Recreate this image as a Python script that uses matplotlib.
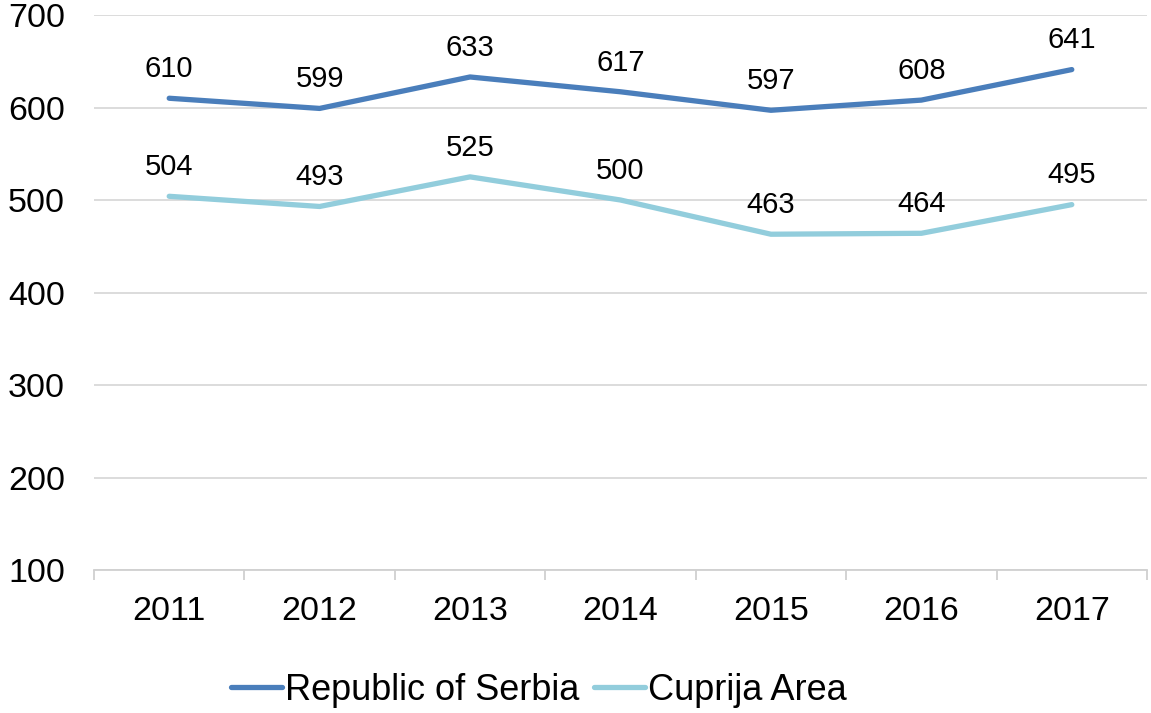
import matplotlib
matplotlib.use("Agg")
import matplotlib.pyplot as plt
import numpy as np

years = ["2011", "2012", "2013", "2014", "2015", "2016", "2017"]
serbia = [610, 599, 633, 617, 597, 608, 641]
cuprija = [504, 493, 525, 500, 463, 464, 495]
series_names = ["Republic of Serbia", "Cuprija Area"]
colors = ["#4A7EBB", "#92CDDC"]

plt.rcParams['font.family'] = ['Liberation Sans', 'DejaVu Sans']

fig = plt.figure(figsize=(11.51, 7.13), dpi=100)
ax = fig.add_axes([94/1151, 1-570/713, (1147-94)/1151, (570-15)/713])

x = np.arange(len(years))
for vals, name, c in zip([serbia, cuprija], series_names, colors):
    ax.plot(x, vals, color=c, lw=3.8, label=name, solid_capstyle='round', solid_joinstyle='round')
    for xi, v in zip(x, vals):
        ax.annotate(str(v), (xi, v), xytext=(0, 21), textcoords='offset points',
                    ha='center', va='center', fontsize=21, color='black')

ax.set_xlim(-0.5, len(years) - 0.5)
ax.set_ylim(100, 700)
ax.set_yticks(range(100, 701, 100))
ax.set_xticks(x)
ax.set_xticklabels(years)
ax.set_xticks(np.arange(-0.5, len(years), 1), minor=True)
ax.tick_params(axis='x', which='major', length=0, labelsize=24.5, pad=19)
ax.tick_params(axis='x', which='minor', length=7, color='#D0D0D0', width=1.3)
ax.tick_params(axis='y', length=0, labelsize=24.5, pad=21)
ax.grid(axis='y', color='#D9D9D9', lw=1.3)
ax.set_axisbelow(True)
for s in ['top', 'right', 'left']:
    ax.spines[s].set_visible(False)
ax.spines['bottom'].set_color('#D0D0D0')
ax.spines['bottom'].set_linewidth(1.3)

leg = fig.legend(loc='center', bbox_to_anchor=(539/1151, 1-690/713), ncol=2, frameon=False,
                 fontsize=26, handlelength=1.4, handletextpad=0.1, columnspacing=0.4)

fig.savefig("out.png", dpi=100)
